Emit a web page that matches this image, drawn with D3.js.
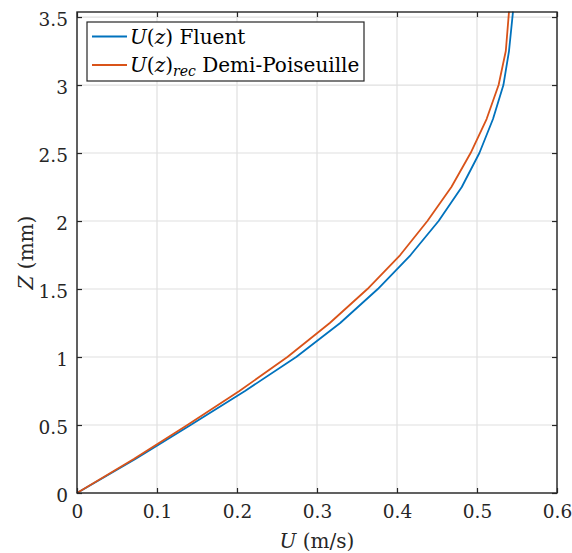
<!DOCTYPE html>
<html>
<head>
<meta charset="utf-8">
<script src="https://cdn.jsdelivr.net/npm/d3@7"></script>
<style>
  html, body { margin: 0; padding: 0; background: #fff; }
</style>
</head>
<body>
<svg id="chart" width="572" height="553"></svg>
<script>
// ---- data ----
const zValues   = [0, 0.25, 0.5, 0.75, 1.0, 1.25, 1.5, 1.75, 2.0, 2.25, 2.5, 2.75, 3.0, 3.25, 3.54];
const uFluent   = [0, 0.073, 0.142, 0.210, 0.274, 0.329, 0.376, 0.417, 0.452, 0.481, 0.503, 0.520, 0.533, 0.540, 0.545];
const uRec      = [0, 0.071, 0.138, 0.203, 0.263, 0.316, 0.363, 0.404, 0.438, 0.468, 0.492, 0.512, 0.527, 0.536, 0.540];
const xTicks    = [0, 0.1, 0.2, 0.3, 0.4, 0.5, 0.6];
const yTicks    = [0, 0.5, 1, 1.5, 2, 2.5, 3, 3.5];
const xDomain   = [0, 0.6];
const yDomain   = [0, 3.537];
const seriesNames = ["Fluent", "Demi-Poiseuille"];
const seriesColors = ["#0072BD", "#D95319"];

const FONT = "'DejaVu Serif', 'Liberation Serif', Tinos, 'Times New Roman', serif";
const svg = d3.select("#chart").attr("font-family", FONT);
const L = 77, R = 557, T = 12, B = 493;
const x = d3.scaleLinear().domain(xDomain).range([L, R]);
const y = d3.scaleLinear().domain(yDomain).range([B, T]);
const axisColor = "#262626";

// grid
const grid = svg.append("g");
grid.selectAll("line.gx").data(xTicks).join("line")
  .attr("x1", d => x(d)).attr("x2", d => x(d)).attr("y1", T).attr("y2", B)
  .attr("stroke", "#dfdfdf").attr("stroke-width", 1.2);
grid.selectAll("line.gy").data(yTicks).join("line")
  .attr("y1", d => y(d)).attr("y2", d => y(d)).attr("x1", L).attr("x2", R)
  .attr("stroke", "#dfdfdf").attr("stroke-width", 1.2);

// lines
const series = [
  {name: seriesNames[0], u: uFluent, color: seriesColors[0]},
  {name: seriesNames[1], u: uRec, color: seriesColors[1]}
];
const line = d3.line().x(d => x(d[0])).y(d => y(d[1]));
svg.append("g").selectAll("path").data(series).join("path")
  .attr("d", s => line(s.u.map((u, i) => [u, zValues[i]])))
  .attr("fill", "none").attr("stroke", s => s.color).attr("stroke-width", 1.8)
  .attr("stroke-linejoin", "round");

// axes
const fs = 20, tfs = 18.5;
const xAxis = d3.axisBottom(x).tickValues(xTicks).tickSize(-5).tickPadding(12).tickFormat(d3.format("~g"));
const yAxis = d3.axisLeft(y).tickValues(yTicks).tickSize(-5).tickPadding(9).tickFormat(d3.format("~g"));
const xTop = d3.axisTop(x).tickValues(xTicks).tickSize(-5).tickFormat("");
const yRight = d3.axisRight(y).tickValues(yTicks).tickSize(-5).tickFormat("");

function styleAxis(g) {
  g.attr("font-family", FONT).attr("font-size", tfs);
  g.select(".domain").remove();
  g.selectAll(".tick line").attr("stroke", axisColor).attr("stroke-width", 1.2);
  g.selectAll("text").attr("fill", axisColor);
}
svg.append("g").attr("transform", `translate(0,${B})`).call(xAxis).call(styleAxis);
svg.append("g").attr("transform", `translate(${L},0)`).call(yAxis).call(styleAxis)
  .selectAll("text").attr("dy", "0.45em");
svg.append("g").attr("transform", `translate(0,${T})`).call(xTop).call(styleAxis);
svg.append("g").attr("transform", `translate(${R},0)`).call(yRight).call(styleAxis);

// box
svg.append("rect").attr("x", L).attr("y", T).attr("width", R - L).attr("height", B - T)
  .attr("fill", "none").attr("stroke", axisColor).attr("stroke-width", 1.4);

// axis labels
const xl = svg.append("text").attr("x", (L + R) / 2).attr("y", 548).attr("text-anchor", "middle")
  .attr("font-size", fs).attr("fill", axisColor);
xl.append("tspan").attr("font-style", "italic").text("U");
xl.append("tspan").text(" (m/s)");

const yl = svg.append("text").attr("transform", `translate(33,${(T + B) / 2}) rotate(-90)`)
  .attr("text-anchor", "middle").attr("font-size", fs).attr("fill", axisColor);
yl.append("tspan").attr("font-style", "italic").text("Z");
yl.append("tspan").text(" (mm)");

// legend
const lg = svg.append("g");
lg.append("rect").attr("x", 87).attr("y", 22).attr("width", 277).attr("height", 59)
  .attr("fill", "#fff").attr("stroke", axisColor).attr("stroke-width", 1.2);
const rows = [36.5, 65];
series.forEach((s, i) => {
  lg.append("line").attr("x1", 92).attr("x2", 127).attr("y1", rows[i]).attr("y2", rows[i])
    .attr("stroke", s.color).attr("stroke-width", 1.8);
  const t = lg.append("text").attr("x", 130).attr("y", rows[i] + 7).attr("font-size", fs)
    .attr("fill", "#000");
  t.append("tspan").attr("font-style", "italic").text("U");
  t.append("tspan").text("(");
  t.append("tspan").attr("font-style", "italic").text("z");
  t.append("tspan").text(")");
  if (i === 1) {
    t.append("tspan").attr("font-style", "italic").attr("dy", 4).attr("font-size", 14).text("rec");
    t.append("tspan").attr("dy", -4).text(" " + s.name);
  } else {
    t.append("tspan").text(" " + s.name);
  }
});
</script>
</body>
</html>
